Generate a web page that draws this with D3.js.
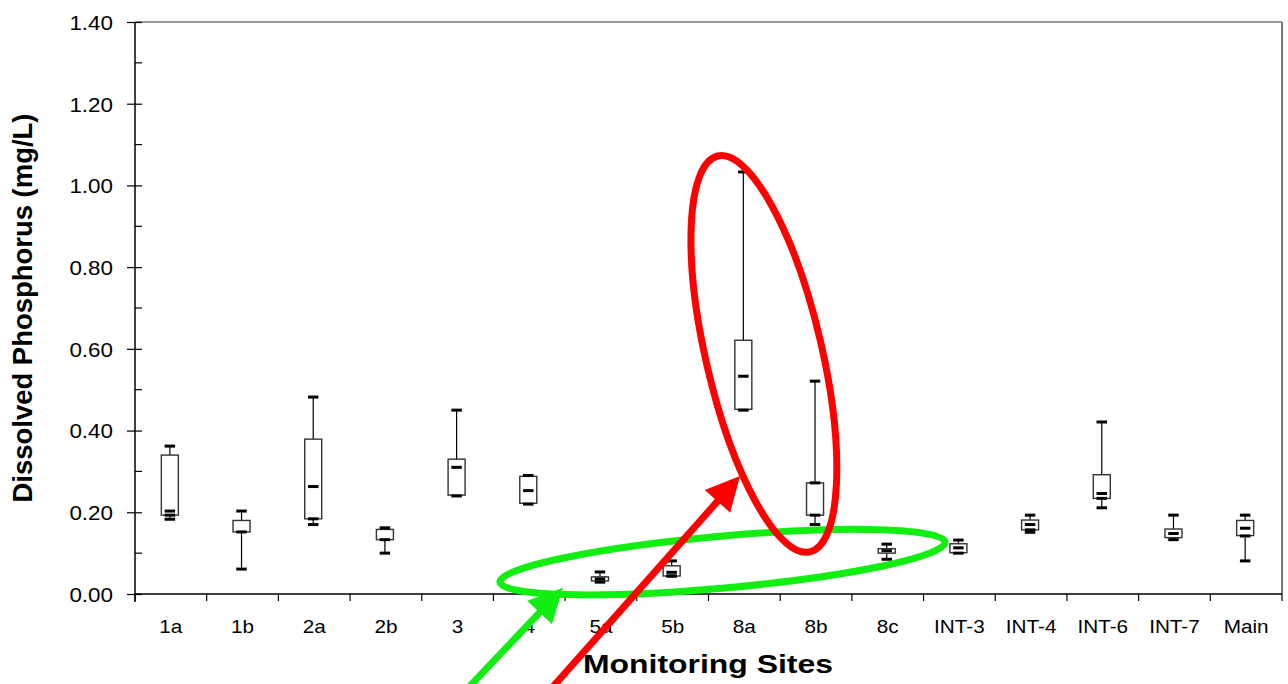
<!DOCTYPE html>
<html>
<head>
<meta charset="utf-8">
<script src="https://cdn.jsdelivr.net/npm/d3@7"></script>
<style>
  body { margin: 0; background: #fff; }
  text { font-family: "Liberation Sans", Arial, sans-serif; }
</style>
</head>
<body>
<script>
// data (mg/L)
var sites = ["1a", "1b", "2a", "2b", "3", "4", "5a", "5b", "8a", "8b", "8c",
             "INT-3", "INT-4", "INT-6", "INT-7", "Main"];
var whiskerLow  = [0.183, 0.061, 0.170, 0.100, 0.240, 0.220, 0.029, 0.044, 0.450, 0.170, 0.085, 0.100, 0.151, 0.211, 0.133, 0.081];
var q1          = [0.193, 0.152, 0.184, 0.133, 0.242, 0.222, 0.032, 0.044, 0.452, 0.193, 0.100, 0.101, 0.157, 0.234, 0.138, 0.143];
var median      = [0.203, 0.152, 0.263, 0.133, 0.310, 0.253, 0.037, 0.053, 0.533, 0.272, 0.106, 0.113, 0.170, 0.246, 0.148, 0.161];
var q3          = [0.340, 0.180, 0.379, 0.158, 0.330, 0.288, 0.042, 0.069, 0.621, 0.272, 0.111, 0.123, 0.181, 0.292, 0.159, 0.180];
var whiskerHigh = [0.362, 0.203, 0.482, 0.162, 0.450, 0.290, 0.054, 0.081, 1.033, 0.521, 0.122, 0.132, 0.193, 0.421, 0.193, 0.193];
var mean        = [0.193, null, 0.184, null, null, null, null, 0.044, null, 0.193, null, null, 0.157, 0.234, null, 0.142];

var yMajor = [0, 0.2, 0.4, 0.6, 0.8, 1.0, 1.2, 1.4];
var yMinor = [0.1, 0.3, 0.5, 0.7, 0.9, 1.1, 1.3];

// hand drawn highlights, in band units / mg/L
var greenEllipse = {x1: 5.09, v1: 0.029, x2: 11.30, v2: 0.127, r: 26};
var redEllipse   = {x1: 8.13, v1: 1.072, x2: 9.415, v2: 0.103, r: 58};
var greenArrow   = {x1: 4.62, v1: -0.235, x2: 5.97, v2: 0.015};
var redArrow     = {x1: 5.79, v1: -0.235, x2: 8.44, v2: 0.289};

var W = 1288, H = 684;
var margin = {top: 22, right: 6, bottom: 90, left: 135};
var width = W - margin.left - margin.right,
    height = H - margin.top - margin.bottom;

var svg = d3.select("body").append("svg")
    .attr("width", W)
    .attr("height", H);

var g = svg.append("g")
    .attr("transform", "translate(" + margin.left + "," + margin.top + ")");

var x = d3.scaleBand().domain(sites).range([0, width]);
var xi = d3.scaleLinear().domain([0, sites.length]).range([0, width]);
var y = d3.scaleLinear().domain([0, 1.4]).range([height, 0]);

// stretch text a bit wider, the original is drawn that way
function widen(sel, k) {
  sel.each(function() {
    var w = this.getComputedTextLength();
    d3.select(this).attr("textLength", w * k).attr("lengthAdjust", "spacingAndGlyphs");
  });
}

// frame (top + right, grey)
g.append("line").attr("x1", 0).attr("x2", width).attr("y1", 0).attr("y2", 0)
  .attr("stroke", "#777").attr("stroke-width", 1.5);
g.append("line").attr("x1", width).attr("x2", width).attr("y1", 0).attr("y2", height)
  .attr("stroke", "#777").attr("stroke-width", 2);

// y axis
var yAxis = g.append("g")
  .call(d3.axisLeft(y).tickValues(yMajor).tickFormat(d3.format(".2f")).tickSize(8).tickPadding(14));
yAxis.select(".domain").remove();
yAxis.selectAll(".tick line").attr("x2", 7).attr("x1", -8).attr("stroke", "#000").attr("stroke-width", 1.2);
yAxis.selectAll("text").attr("font-size", 20).attr("fill", "#000").attr("dy", "0.37em")
  .call(widen, 1.12);

g.append("g")
  .selectAll("line")
  .data(yMinor)
  .enter().append("line")
    .attr("x1", 0).attr("x2", 7)
    .attr("y1", function(d) { return y(d); })
    .attr("y2", function(d) { return y(d); })
    .attr("stroke", "#000").attr("stroke-width", 1.2);

g.append("line").attr("x1", 0).attr("x2", 0).attr("y1", 0).attr("y2", height + 8)
  .attr("stroke", "#000").attr("stroke-width", 1.5);

// x axis
var xAxis = g.append("g")
  .attr("transform", "translate(0," + height + ")")
  .call(d3.axisBottom(x).tickSize(0));
xAxis.select(".domain").remove();
xAxis.selectAll("text").attr("y", 39).attr("dy", 0).attr("font-size", 18.5).attr("fill", "#000")
  .call(widen, 1.12);

g.append("g")
  .attr("transform", "translate(0," + height + ")")
  .selectAll("line")
  .data(d3.range(sites.length + 1))
  .enter().append("line")
    .attr("x1", function(d) { return xi(d); })
    .attr("x2", function(d) { return xi(d); })
    .attr("y1", 0).attr("y2", 7)
    .attr("stroke", "#000").attr("stroke-width", 1.2);

g.append("line").attr("x1", 0).attr("x2", width).attr("y1", height).attr("y2", height)
  .attr("stroke", "#000").attr("stroke-width", 1.5);

// box plots
var boxW = 17, capW = 10.5;
var boxes = g.append("g").selectAll("g")
  .data(sites)
  .enter().append("g")
    .attr("transform", function(d) { return "translate(" + (x(d) + x.bandwidth() / 2 - 1) + ",0)"; });

boxes.append("line")
  .attr("y1", function(d, i) { return y(whiskerHigh[i]); })
  .attr("y2", function(d, i) { return y(whiskerLow[i]); })
  .attr("stroke", "#000").attr("stroke-width", 1.2);

boxes.append("rect")
  .attr("x", -boxW / 2)
  .attr("width", boxW)
  .attr("y", function(d, i) { return y(q3[i]); })
  .attr("height", function(d, i) { return Math.max(y(q1[i]) - y(q3[i]), 1); })
  .attr("fill", "#fff").attr("stroke", "#333").attr("stroke-width", 1.4);

// short thick marks: whisker caps, median, mean
function thick(arr) {
  boxes.filter(function(d, i) { return arr[i] != null; })
    .append("line")
      .attr("x1", -capW / 2).attr("x2", capW / 2)
      .attr("y1", function(d) { return y(arr[sites.indexOf(d)]); })
      .attr("y2", function(d) { return y(arr[sites.indexOf(d)]); })
      .attr("stroke", "#000").attr("stroke-width", 3);
}
thick(whiskerHigh);
thick(whiskerLow);
thick(median);
thick(mean);

// axis titles
svg.append("text")
  .attr("x", 708)
  .attr("y", 673)
  .attr("text-anchor", "middle")
  .attr("font-size", 26).attr("font-weight", "bold")
  .text("Monitoring Sites")
  .attr("textLength", 250).attr("lengthAdjust", "spacingAndGlyphs");

svg.append("text")
  .attr("transform", "translate(32,308) rotate(-90)")
  .attr("text-anchor", "middle")
  .attr("font-size", 27).attr("font-weight", "bold")
  .text("Dissolved Phosphorus (mg/L)")
  .attr("textLength", 389).attr("lengthAdjust", "spacingAndGlyphs");

// highlights
function ellipse(e, color) {
  var ax = xi(e.x1), ay = y(e.v1), bx = xi(e.x2), by = y(e.v2);
  var cx = (ax + bx) / 2, cy = (ay + by) / 2;
  var rx = Math.hypot(bx - ax, by - ay) / 2;
  var ang = Math.atan2(by - ay, bx - ax) * 180 / Math.PI;
  g.append("ellipse")
    .attr("cx", 0).attr("cy", 0).attr("rx", rx).attr("ry", e.r)
    .attr("transform", "translate(" + cx + "," + cy + ") rotate(" + ang + ")")
    .attr("fill", "none").attr("stroke", color).attr("stroke-width", 7);
}
function arrow(a, color) {
  var ax = xi(a.x1), ay = y(a.v1), bx = xi(a.x2), by = y(a.v2);
  var ang = Math.atan2(by - ay, bx - ax);
  var len = 34, half = 17;
  var baseX = bx - len * Math.cos(ang), baseY = by - len * Math.sin(ang);
  g.append("line")
    .attr("x1", ax).attr("y1", ay).attr("x2", baseX + 4 * Math.cos(ang)).attr("y2", baseY + 4 * Math.sin(ang))
    .attr("stroke", color).attr("stroke-width", 7);
  var px = -Math.sin(ang), py = Math.cos(ang);
  g.append("polygon")
    .attr("points", [[bx, by], [baseX + px * half, baseY + py * half], [baseX - px * half, baseY - py * half]]
      .map(function(p) { return p.join(","); }).join(" "))
    .attr("fill", color);
}
ellipse(greenEllipse, "#11ee11");
ellipse(redEllipse, "#ff0000");
arrow(greenArrow, "#11ee11");
arrow(redArrow, "#ff0000");
</script>
</body>
</html>
